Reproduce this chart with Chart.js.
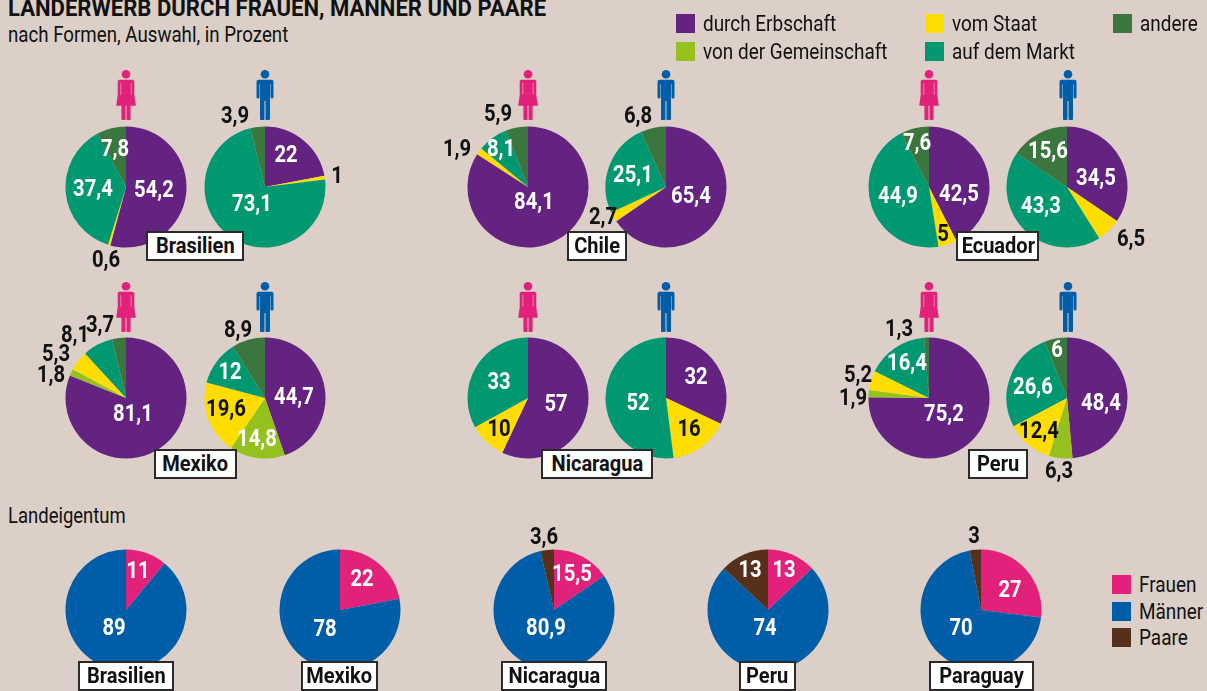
<!DOCTYPE html>
<html lang="de">
<head>
<meta charset="utf-8">
<title>Landerwerb durch Frauen, Männer und Paare</title>
<script src="https://cdn.jsdelivr.net/npm/chart.js@4"></script>
<style>
html, body { margin: 0; padding: 0; }
body { width: 1207px; height: 691px; background: #dbcfc7; position: relative; overflow: hidden; font-family: "Roboto", sans-serif; color: #111; }
canvas { position: absolute; }
.t { position: absolute; white-space: nowrap; transform-origin: left top; }
.val { position: absolute; transform: translate(-50%, -50%) scaleX(.88); font-weight: bold; font-size: 23px; line-height: 1; white-space: nowrap; }
.box { position: absolute; box-sizing: border-box; background: #fff; border: 2px solid #2a2a2a; text-align: center; font-weight: bold; font-size: 22px; line-height: 26px; white-space: nowrap; }
.box span { display: inline-block; transform: scaleX(.91); }
.sw { position: absolute; width: 19px; height: 19px; }
.leg { position: absolute; font-size: 22px; line-height: 20px; white-space: nowrap; transform: scaleX(.86); transform-origin: left top; }
svg.icon { position: absolute; width: 20px; height: 50px; }
</style>
</head>
<body>
<svg width="0" height="0" style="position:absolute">
  <symbol id="woman" viewBox="-10 0 20 50">
    <circle cx="0" cy="4.3" r="4.3"/>
    <path d="M-6.5 9.7H6.5Q8.3 9.7 8.3 11.5V25L9.8 35.7H4.6V49Q4.6 50 3.6 50H1.1Q0.5 50 0.5 49V35.7H-0.5V49Q-0.5 50 -1.1 50H-3.6Q-4.6 50 -4.6 49V35.7H-9.8L-8.3 25V11.5Q-8.3 9.7 -6.5 9.7Z"/>
    <path d="M-5.2 13V25M5.2 13V25" stroke="#dbcfc7" stroke-width="0.6" fill="none"/>
  </symbol>
  <symbol id="man" viewBox="-10 0 20 50">
    <circle cx="0" cy="4.3" r="4.3"/>
    <path d="M-6.5 9.7H6.5Q8.5 9.7 8.5 11.7V27Q8.5 28.5 7 28.5Q5.5 28.5 5.5 27V14H5V49Q5 50 4 50H1.2Q0.5 50 0.5 49V31H-0.5V49Q-0.5 50 -1.2 50H-4Q-5 50 -5 49V14H-5.5V27Q-5.5 28.5 -7 28.5Q-8.5 28.5 -8.5 27V11.7Q-8.5 9.7 -6.5 9.7Z"/>
  </symbol>
</svg>
<script>
// Erbschaft, Gemeinschaft, Staat, Markt, andere
const formen = ['durch Erbschaft', 'von der Gemeinschaft', 'vom Staat', 'auf dem Markt', 'andere'];
const brasilienF = [54.2, 0, 0.6, 37.4, 7.8];
const brasilienM = [22, 0, 1, 73.1, 3.9];
const chileF = [84.1, 0, 1.9, 8.1, 5.9];
const chileM = [65.4, 0, 2.7, 25.1, 6.8];
const ecuadorF = [42.5, 0, 5, 44.9, 7.6];
const ecuadorM = [34.5, 0, 6.5, 43.3, 15.6];
const mexikoF = [81.1, 1.8, 5.3, 8.1, 3.7];
const mexikoM = [44.7, 14.8, 19.6, 12, 8.9];
const nicaraguaF = [57, 0, 10, 33, 0];
const nicaraguaM = [32, 0, 16, 52, 0];
const peruF = [75.2, 1.9, 5.2, 16.4, 1.3];
const peruM = [48.4, 6.3, 12.4, 26.6, 6];

// Frauen, Männer, Paare
const eigentum = ['Frauen', 'Männer', 'Paare'];
const eigBrasilien = [11, 89, 0];
const eigMexiko = [22, 78, 0];
const eigNicaragua = [15.5, 80.9, 3.6];
const eigPeru = [13, 74, 13];
const eigParaguay = [27, 70, 3];

const formColors = ['#642281', '#95c11f', '#ffdd00', '#009870', '#3c763f'];
const eigColors = ['#e2217a', '#005ea8', '#56301a'];

function el(cls, css, text) {
    const d = document.createElement('div');
    d.className = cls;
    Object.assign(d.style, css);
    if (text !== undefined) d.textContent = text;
    document.body.appendChild(d);
    return d;
}

// one canvas per pie, labels are placed by hand like in the printed graphic
function pie(values, names, colors, cx, cy, places, darkLabels) {
    const size = 124;
    const c = document.createElement('canvas');
    c.width = size;
    c.height = size;
    c.style.left = (cx - size / 2) + 'px';
    c.style.top = (cy - size / 2) + 'px';
    c.style.width = size + 'px';
    c.style.height = size + 'px';
    document.body.appendChild(c);
    new Chart(c.getContext('2d'), {
        type: 'pie',
        data: { labels: names, datasets: [{ data: values, backgroundColor: colors, borderWidth: 0, radius: 60.5 }] },
        options: {
            responsive: false,
            animation: false,
            plugins: { legend: { display: false }, tooltip: { enabled: false } }
        }
    });
    const shown = values.filter(v => v > 0);
    shown.forEach((v, i) => {
        const p = places[i];
        el('val', { left: p[0] + 'px', top: p[1] + 'px', color: darkLabels.includes(i) ? '#111' : '#fff' }, String(v).replace('.', ','));
    });
}

function icon(kind, cx, top) {
    const ns = 'http://www.w3.org/2000/svg';
    const s = document.createElementNS(ns, 'svg');
    s.setAttribute('class', 'icon');
    s.style.left = (cx - 10) + 'px';
    s.style.top = top + 'px';
    s.style.fill = kind === 'woman' ? '#e2217a' : '#005ea8';
    const u = document.createElementNS(ns, 'use');
    u.setAttribute('href', '#' + kind);
    s.appendChild(u);
    document.body.appendChild(s);
}

// upper rows
pie(brasilienF, formen, formColors, 126, 186.5, [[154, 189], [106, 259], [93, 188], [115, 148]], [1]);
pie(brasilienM, formen, formColors, 264.5, 186.5, [[286, 154], [337, 175], [252, 203], [235, 115]], [1, 3]);
pie(chileF, formen, formColors, 527.5, 186.5, [[534, 201], [457, 148], [501, 148], [498, 113]], [1, 3]);
pie(chileM, formen, formColors, 665.5, 186.5, [[691, 195], [603, 216], [633, 174], [638, 115]], [1, 3]);
pie(ecuadorF, formen, formColors, 928.5, 186.5, [[959, 193], [943, 233], [898, 195], [917, 142]], [1]);
pie(ecuadorM, formen, formColors, 1067, 186.5, [[1096, 177], [1131, 238], [1041, 205], [1048, 150]], [1]);
pie(mexikoF, formen, formColors, 126, 398, [[133, 413], [51, 374], [56, 353], [75, 334], [100, 324]], [1, 2, 3, 4]);
pie(mexikoM, formen, formColors, 264.5, 398, [[294, 396], [257, 438], [226, 408], [230, 371], [238, 329]], [2, 4]);
pie(nicaraguaF, formen, formColors, 527.5, 398, [[556, 403], [499, 428], [499, 381]], [1]);
pie(nicaraguaM, formen, formColors, 665.5, 398, [[696, 376], [689, 428], [638, 402]], [1]);
pie(peruF, formen, formColors, 928.5, 398, [[944, 413], [853, 397], [858, 374], [907, 362], [899, 328]], [1, 2, 4]);
pie(peruM, formen, formColors, 1067, 398, [[1101, 402], [1059, 470], [1039, 430], [1033, 386], [1057, 349]], [1, 2]);

// Landeigentum
pie(eigBrasilien, eigentum, eigColors, 126, 609.5, [[138, 570], [114, 627]], []);
pie(eigMexiko, eigentum, eigColors, 340, 609.5, [[362, 578], [325, 628]], []);
pie(eigNicaragua, eigentum, eigColors, 554, 609.5, [[572, 573], [546, 627], [544, 536]], [2]);
pie(eigPeru, eigentum, eigColors, 768, 609.5, [[784, 569], [765, 627], [750, 569]], []);
pie(eigParaguay, eigentum, eigColors, 981, 609.5, [[1010, 589], [961, 627], [974, 535]], [2]);

[70, 282].forEach(top => {
    [126, 528, 929].forEach(x => icon('woman', x, top));
    [264.5, 666, 1068].forEach(x => icon('man', x, top));
});

// country boxes: name, left, top, width
const boxes = [
    ['Brasilien', 146, 231, 98], ['Chile', 567, 231, 60], ['Ecuador', 956, 231, 83],
    ['Mexiko', 154, 449, 83], ['Nicaragua', 541, 449, 112], ['Peru', 968, 449, 60],
    ['Brasilien', 78, 661, 96], ['Mexiko', 301, 661, 77], ['Nicaragua', 501, 661, 106],
    ['Peru', 739, 661, 57], ['Paraguay', 929, 661, 105]
];
boxes.forEach(b => {
    const d = el('box', { left: b[1] + 'px', top: b[2] + 'px', width: b[3] + 'px', height: '30px' });
    const s = document.createElement('span');
    s.textContent = b[0];
    d.appendChild(s);
});

el('t', { left: '8px', top: '-6px', fontWeight: 'bold', fontSize: '24px', transform: 'scaleX(.92)' }, 'LANDERWERB DURCH FRAUEN, MÄNNER UND PAARE');
el('t', { left: '8px', top: '22px', fontSize: '22px', transform: 'scaleX(.85)' }, 'nach Formen, Auswahl, in Prozent');
el('t', { left: '8px', top: '503px', fontSize: '22px', transform: 'scaleX(.84)' }, 'Landeigentum');

// legends
const legendPlaces = [[676, 14], [676, 42], [925, 14], [925, 42], [1113, 14]];
formen.forEach((name, i) => {
    const p = legendPlaces[i];
    el('sw', { left: p[0] + 'px', top: p[1] + 'px', background: formColors[i] });
    el('leg', { left: (p[0] + 27) + 'px', top: p[1] + 'px' }, name);
});
eigentum.forEach((name, i) => {
    const y = [575, 602, 628][i];
    el('sw', { left: '1112px', top: y + 'px', background: eigColors[i] });
    el('leg', { left: '1139px', top: y + 'px' }, name);
});
</script>
</body>
</html>
